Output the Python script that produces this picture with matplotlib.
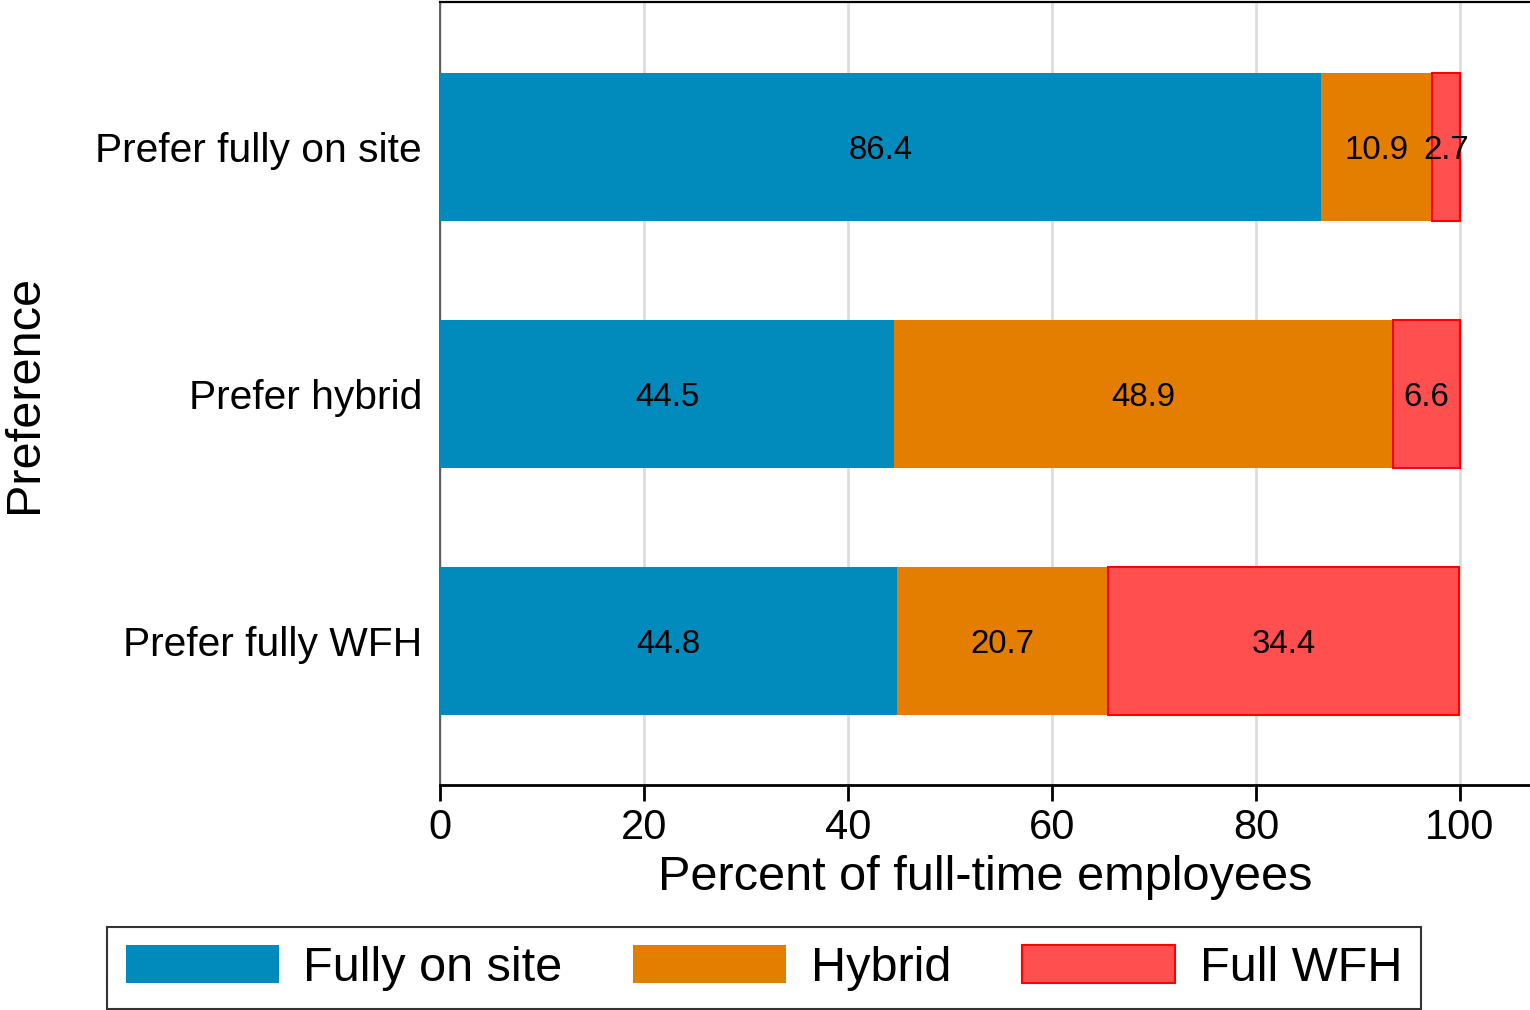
import numpy as np
import matplotlib
matplotlib.use("Agg")
import matplotlib.pyplot as plt

# data
groups = ["Prefer fully on site", "Prefer hybrid", "Prefer fully WFH"]
series = ["Fully on site", "Hybrid", "Full WFH"]
onsite = [86.4, 44.5, 44.8]
hybrid = [10.9, 48.9, 20.7]
wfh = [2.7, 6.6, 34.4]
xticks = [0, 20, 40, 60, 80, 100]

fills = ["#018bbd", "#e37e00", "#ff4f4f"]
edges = ["#018bbd", "#e37e00", "#ff0000"]

plt.rcParams["font.family"] = ["Liberation Sans", "DejaVu Sans"]

fig = plt.figure(figsize=(15.3, 10.1), dpi=100)
ax = fig.add_axes([440/1530, 1-785/1010, 1-440/1530, (785-2)/1010])

y = np.arange(len(groups))
left = np.zeros(len(groups))
for vals, name, fc, ec in zip([onsite, hybrid, wfh], series, fills, edges):
    vals = np.array(vals)
    lw = 1.5 if name == "Full WFH" else 0
    ax.barh(y, vals, left=left, height=0.6, color=fc, edgecolor=ec,
            linewidth=lw, label=name, zorder=3)
    for yi, l, v in zip(y, left, vals):
        ax.text(l + v/2, yi, f"{v:.1f}", ha="center", va="center_baseline",
                fontsize=23.8, zorder=4)
    left = left + vals

ax.set_xlim(0, 1090/10.2)
ax.set_ylim(2 + 144/247, -145/247)
ax.set_xticks(xticks)
ax.set_yticks(y)
ax.set_yticklabels(groups)
ax.tick_params(axis="x", labelsize=30, length=11.5, width=2, pad=5)
ax.tick_params(axis="y", labelsize=29.3, length=0, pad=13)
ax.grid(axis="x", color="#dddddd", linewidth=2, zorder=0)
ax.set_axisbelow(True)

ax.spines["right"].set_visible(False)
ax.spines["top"].set_linewidth(1.6)
ax.spines["bottom"].set_linewidth(2)
ax.spines["left"].set_color("#444444")
ax.spines["left"].set_linewidth(1.2)

ax.set_xlabel("Percent of full-time employees", fontsize=35)
ax.xaxis.set_label_coords(0.5, -70/783)
ax.set_ylabel("Preference", fontsize=35)
ax.yaxis.set_label_coords(-415/1090, 0.5)
ax.yaxis.label.set_verticalalignment("center")

leg = fig.legend(loc="center", bbox_to_anchor=(764/1530, 1-968/1010), ncol=3,
                 fontsize=35, frameon=True, fancybox=False, edgecolor="black",
                 handlelength=3.15, handleheight=0.82, handletextpad=0.51,
                 columnspacing=1.45, borderpad=0.38)
leg.get_frame().set_linewidth(1.5)

fig.savefig("out.png", dpi=100)
